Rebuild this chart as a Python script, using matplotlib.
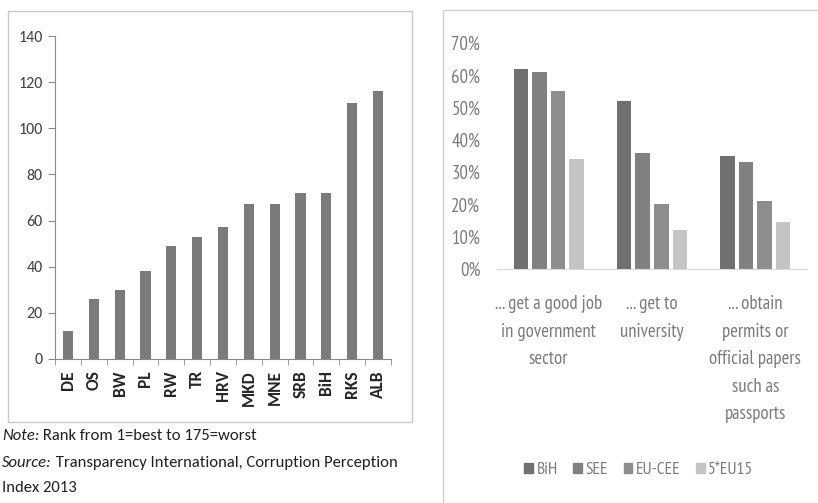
"""
Corruption rank by country and share of respondents who think bribes are
needed, shown side by side.
"""

import numpy as np
import matplotlib
matplotlib.use("Agg")
from matplotlib import pyplot as plt
from matplotlib.patches import Rectangle, Patch
from matplotlib.ticker import FixedLocator, PercentFormatter

# Corruption Perception Index 2013 rank
COUNTRIES = ["DE", "OS", "BW", "PL", "RW", "TR", "HRV", "MKD", "MNE", "SRB",
             "BiH", "RKS", "ALB"]
RANKS = [12, 26, 30, 38, 49, 53, 57, 67, 67, 72, 72, 111, 116]

# Share who say a bribe is needed to ...
PURPOSES = ["... get a good job\nin government\nsector",
            "... get to\nuniversity",
            "... obtain\npermits or\nofficial papers\nsuch as\npassports"]
REGIONS = ["BiH", "SEE", "EU-CEE", "5*EU15"]
BIH = [62, 52, 35]
SEE = [61, 36, 33]
EU_CEE = [55, 20, 21]
EU15 = [34, 12, 14.5]

NARROW = ["PT Sans Narrow", "Roboto Condensed", "DejaVu Sans"]
REGULAR = ["Carlito", "DejaVu Sans"]

W, H = 818, 503


def fx(px):
    return px / W


def fy(py):
    return 1 - py / H


fig = plt.figure(figsize=(W / 100, H / 100), dpi=100)
bg = fig.add_axes([0, 0, 1, 1])
bg.set_xlim(0, 1)
bg.set_ylim(0, 1)
bg.axis("off")

# panel frames
bg.add_patch(Rectangle((fx(8), fy(422)), fx(412) - fx(8), fy(11) - fy(422),
                       fill=False, ec="#c8c8c8", lw=1.0))
bg.add_patch(Rectangle((fx(443), -0.05), 1.1, fy(10) + 0.05,
                       fill=False, ec="#d0d0d0", lw=1.0))

# left: rank chart
ax1 = fig.add_axes([fx(55), fy(359), fx(391) - fx(55), fy(36) - fy(359)])
x = np.arange(len(COUNTRIES))
ax1.bar(x, RANKS, width=0.39, color="#7b7b7b")
ax1.set_xlim(-0.5, len(COUNTRIES) - 0.5)
ax1.set_ylim(0, 140)
ax1.set_yticks(range(0, 141, 20))
ax1.set_xticks(x)
ax1.set_xticklabels(COUNTRIES, rotation=90, family=REGULAR, fontsize=12.5,
                    color="#262626", weight="bold")
ax1.xaxis.set_minor_locator(FixedLocator(np.arange(-0.5, len(COUNTRIES), 1)))
ax1.tick_params(axis="x", which="major", length=0, pad=8)
ax1.tick_params(axis="x", which="minor", length=4, color="#8a8a8a",
                direction="out")
ax1.tick_params(axis="y", length=5, color="#8a8a8a", pad=4, labelsize=11.5,
                labelcolor="#404040")
for lab in ax1.get_yticklabels():
    lab.set_family(REGULAR)
for side in ("top", "right"):
    ax1.spines[side].set_visible(False)
for side in ("left", "bottom"):
    ax1.spines[side].set_color("#8a8a8a")

# note and source under the left chart
CAP = 12
note = bg.text(fx(2), fy(436), "Note:", style="italic", family=REGULAR,
               fontsize=CAP, va="center", color="#202020")
bg.annotate(" Rank from 1=best to 175=worst", xy=(1, 0), xycoords=note,
            va="bottom", family=REGULAR, fontsize=CAP, color="#202020")
src = bg.text(fx(2), fy(463), "Source:", style="italic", family=REGULAR,
              fontsize=CAP, va="center", color="#202020")
bg.annotate(" Transparency International, Corruption Perception",
            xy=(1, 0), xycoords=src, va="bottom", family=REGULAR,
            fontsize=CAP, color="#202020")
bg.text(fx(2), fy(488), "Index 2013", family=REGULAR, fontsize=CAP,
        va="center", color="#202020")

# right: bribe chart
ax2 = fig.add_axes([fx(497), fy(269), fx(807) - fx(497), fy(43) - fy(269)])
g = np.arange(len(PURPOSES))
colors = ["#707070", "#808080", "#8d8d8d", "#c4c4c4"]
series = [BIH, SEE, EU_CEE, EU15]
offsets = [-1.5, -0.5, 0.5, 1.5]
for vals, off, col, name in zip(series, offsets, colors, REGIONS):
    ax2.bar(g + off * 0.18, vals, width=0.14, color=col, label=name)
ax2.set_xlim(-0.5, len(PURPOSES) - 0.5)
ax2.set_ylim(0, 70)
ax2.set_yticks(range(0, 71, 10))
ax2.yaxis.set_major_formatter(PercentFormatter(decimals=0))
ax2.set_xticks(g)
ax2.set_xticklabels(PURPOSES, family=NARROW, fontsize=13.5, color="#7a7a7a",
                    linespacing=1.68, va="top")
ax2.tick_params(axis="x", length=0, pad=19)
ax2.tick_params(axis="y", length=0, pad=12, labelsize=13.5,
                labelcolor="#7a7a7a")
for lab in ax2.get_yticklabels():
    lab.set_family(NARROW)
for side in ("top", "right", "left"):
    ax2.spines[side].set_visible(False)
ax2.spines["bottom"].set_color("#d9d9d9")

handles = [Patch(color=c, label=n) for c, n in zip(colors, REGIONS)]
leg = ax2.legend(handles=handles, ncol=4, loc="center",
                 bbox_to_anchor=(fx(639), fy(470)),
                 bbox_transform=fig.transFigure, frameon=False,
                 handlelength=0.5, handleheight=0.5, handletextpad=0.2,
                 columnspacing=0.9, prop={"family": NARROW, "size": 12.5})
for t in leg.get_texts():
    t.set_color("#7a7a7a")

fig.savefig("out.png", dpi=100)
